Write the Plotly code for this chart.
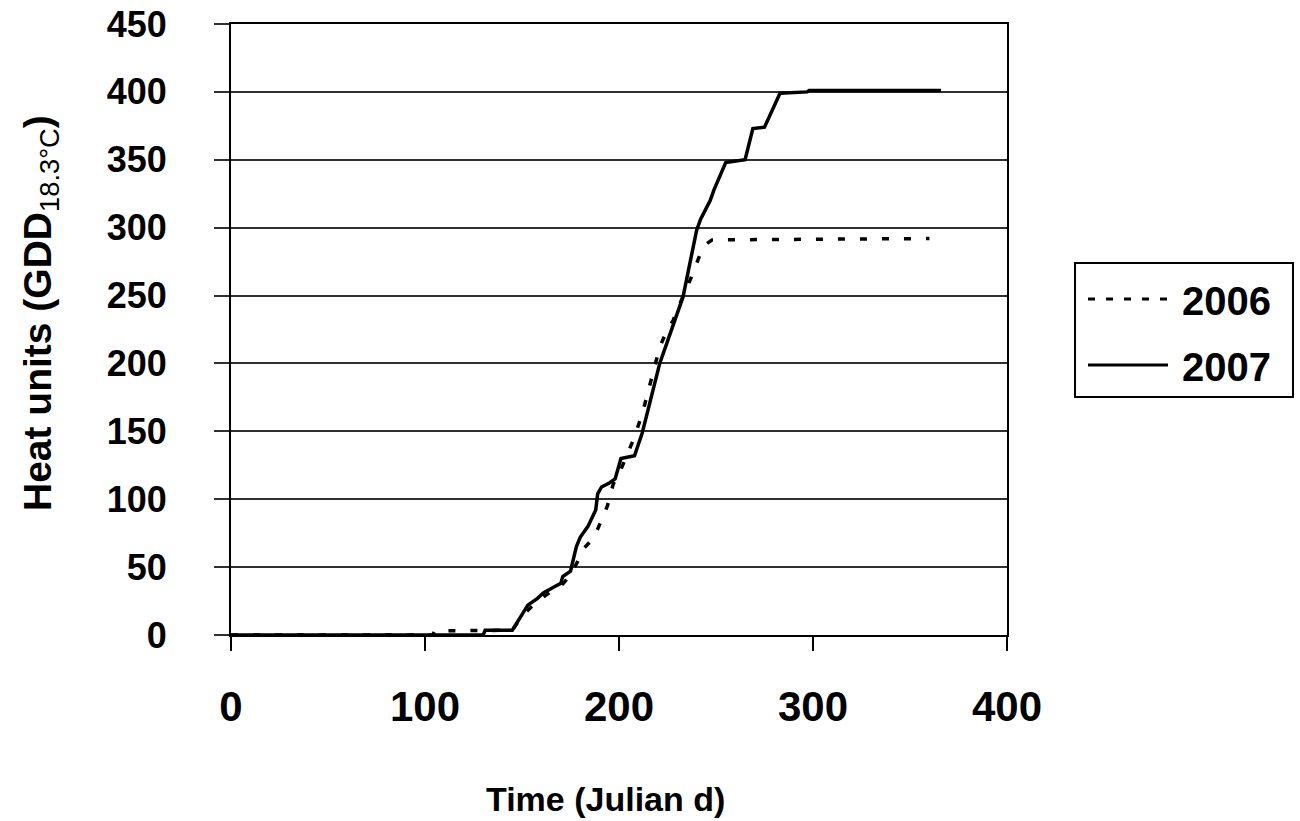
import plotly.graph_objects as go

# Cumulative heat units (GDD, base 18.3 °C) by Julian day
day_2006 = [0, 104, 105, 145, 150, 155, 160, 165, 170, 175, 179, 182, 186, 189,
            192, 194, 197, 201, 204, 208, 212, 215, 218, 221, 224, 228, 232,
            235, 238, 242, 245, 248, 360]
gdd_2006 = [0, 0, 3, 3.5, 14, 21, 27, 32, 36, 44, 55, 64, 70, 78,
            88, 95, 111, 122, 132, 146, 163, 179, 196, 212, 222, 232, 246,
            256, 266, 281, 288, 291, 292]

day_2007 = [0, 130, 131, 145, 150, 153, 158, 161, 166, 170, 171, 175, 178, 180,
            184, 188, 189, 191, 195, 198, 201, 208, 212, 221, 233, 240, 242,
            247, 249, 255, 265, 269, 275, 283, 297, 298, 366]
gdd_2007 = [0, 0, 3.5, 3.5, 15, 22, 27, 31, 35, 38, 43, 47, 65, 72,
            80, 92, 104, 109, 112, 115, 130, 132, 149, 200, 249, 298, 306,
            320, 328, 348, 350, 373, 374, 399, 400, 401, 401]

x_ticks = [0, 100, 200, 300, 400]
y_ticks = [0, 50, 100, 150, 200, 250, 300, 350, 400, 450]

W, H = 1300, 821
L, R, T, B = 231, 1007, 24, 635  # plot area edges in pixels

FONT = "Liberation Sans, Arial, sans-serif"


def px(xp):
    return (xp - L) / (R - L)


def py(yp):
    return (B - yp) / (B - T)


fig = go.Figure()
fig.add_trace(go.Scatter(
    x=day_2006, y=gdd_2006, mode="lines", name="2006",
    line=dict(color="black", width=3.5, dash="7px,15px"),
))
fig.add_trace(go.Scatter(
    x=day_2007, y=gdd_2007, mode="lines", name="2007",
    line=dict(color="black", width=3.5),
))

fig.update_xaxes(
    range=[0, 400], tickvals=x_ticks, showgrid=False, zeroline=False,
    showline=True, linecolor="black", linewidth=2, mirror=True,
    ticks="outside", ticklen=14, tickwidth=2, tickcolor="black",
    ticklabelstandoff=20,
    tickfont=dict(family=FONT, size=42, color="black", weight="bold"),
)
fig.update_yaxes(
    range=[0, 450], tickvals=y_ticks, showgrid=True, gridcolor="#303030",
    gridwidth=2, zeroline=False,
    showline=True, linecolor="black", linewidth=2, mirror=True,
    ticks="outside", ticklen=15, tickwidth=2, tickcolor="#303030",
    ticklabelstandoff=40,
    tickfont=dict(family=FONT, size=36, color="black", weight="bold"),
)

annotations = [
    dict(text="Time (Julian d)", x=px(605), y=py(799), xref="paper", yref="paper",
         showarrow=False, xanchor="center", yanchor="middle",
         font=dict(family=FONT, size=34, color="black", weight="bold")),
    dict(text="Heat units (GDD<sub><span style='font-weight:normal'>18.3°C</span></sub>)",
         x=px(40), y=py(313),
         xref="paper", yref="paper", textangle=-90,
         showarrow=False, xanchor="center", yanchor="middle",
         font=dict(family=FONT, size=39, color="black", weight="bold")),
    dict(text="2006", x=px(1180), y=py(301), xref="paper", yref="paper",
         showarrow=False, xanchor="left", yanchor="middle",
         font=dict(family=FONT, size=40, color="black", weight="bold")),
    dict(text="2007", x=px(1180), y=py(367), xref="paper", yref="paper",
         showarrow=False, xanchor="left", yanchor="middle",
         font=dict(family=FONT, size=40, color="black", weight="bold")),
]

shapes = [
    dict(type="rect", xref="paper", yref="paper",
         x0=px(1075), x1=px(1293), y0=py(397), y1=py(263),
         line=dict(color="black", width=2), fillcolor="white", layer="below"),
    dict(type="line", xref="paper", yref="paper",
         x0=px(1088), x1=px(1168), y0=py(299), y1=py(299),
         line=dict(color="black", width=3, dash="7px,11px")),
    dict(type="line", xref="paper", yref="paper",
         x0=px(1088), x1=px(1168), y0=py(365), y1=py(365),
         line=dict(color="black", width=3)),
]

fig.update_layout(
    width=W, height=H,
    margin=dict(l=L, r=W - R, t=T, b=H - B, autoexpand=False),
    paper_bgcolor="white", plot_bgcolor="white",
    showlegend=False,
    annotations=annotations, shapes=shapes,
)

fig.write_html("out.html")
